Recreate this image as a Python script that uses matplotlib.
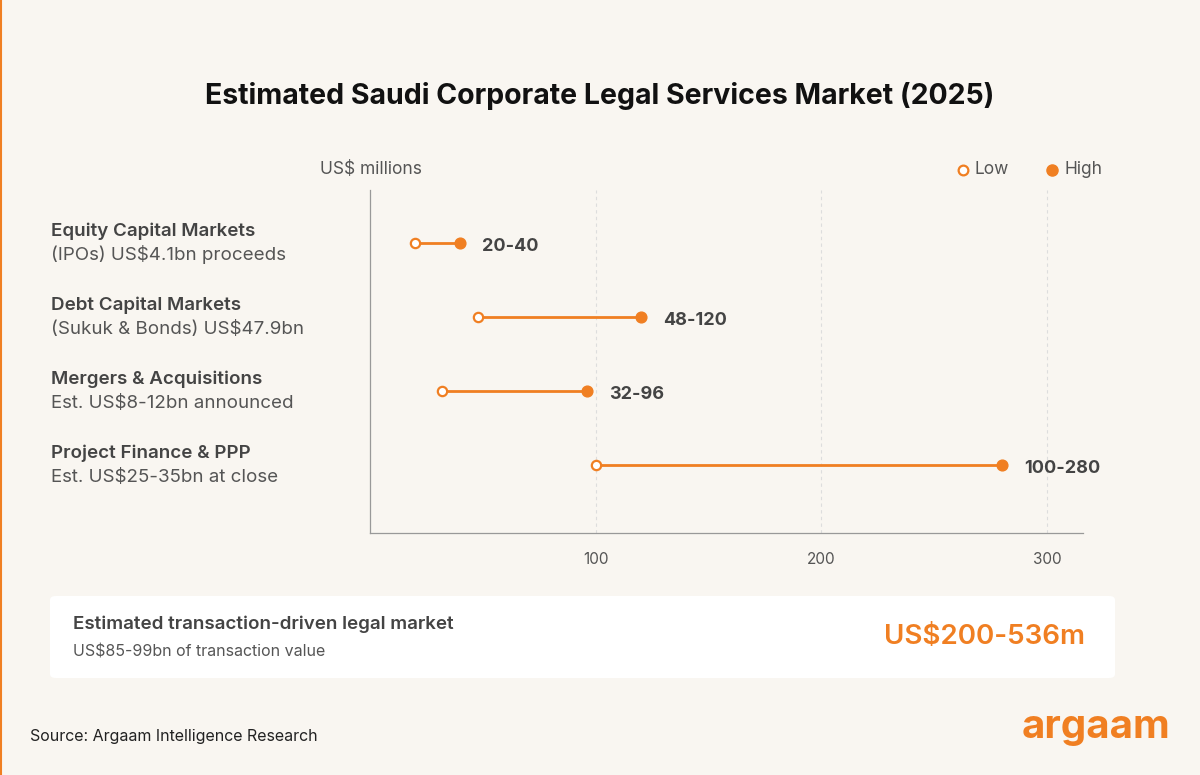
import matplotlib.pyplot as plt
from matplotlib.patches import FancyBboxPatch

plt.rcParams["font.family"] = ["Inter", "DejaVu Sans"]

categories = ["Equity Capital Markets", "Debt Capital Markets",
              "Mergers & Acquisitions", "Project Finance & PPP"]
subtitles = ["(IPOs) US$4.1bn proceeds", "(Sukuk & Bonds) US$47.9bn",
             "Est. US$8-12bn announced", "Est. US$25-35bn at close"]
low = [20, 48, 32, 100]
high = [40, 120, 96, 280]
ticks = [100, 200, 300]

ORANGE = "#f07f22"
BG = "#f9f6f1"
GREY = "#555555"

fig = plt.figure(figsize=(12, 7.75), dpi=100, facecolor=BG)
ax = fig.add_axes([370 / 1200, 1 - 533 / 775, 713 / 1200, (533 - 190) / 775])
ax.set_facecolor(BG)

rows = list(range(len(categories)))
for y, lo, hi in zip(rows, low, high):
    ax.plot([lo, hi], [y, y], color=ORANGE, lw=2, zorder=2)
    ax.scatter([lo], [y], s=45, facecolor="white", edgecolor=ORANGE, lw=1.6, zorder=3)
    ax.scatter([hi], [y], s=60, color=ORANGE, zorder=3)
    ax.annotate(f"{lo}-{hi}", (hi, y), xytext=(16, -1), textcoords="offset points",
                va="center_baseline", ha="left", fontsize=13, fontweight="bold",
                color="#444444")

ax.set_xlim(0, 316)
ax.set_ylim(3.919, -0.716)
ax.set_xticks(ticks)
ax.set_xticklabels([str(t) for t in ticks], fontsize=11, color=GREY)
ax.tick_params(axis="x", length=0, pad=14)
ax.set_yticks([])
for t in ticks:
    ax.axvline(t, color="#dddddd", lw=0.8, ls=(0, (3, 3)), zorder=0)
for s in ["top", "right"]:
    ax.spines[s].set_visible(False)
for s in ["left", "bottom"]:
    ax.spines[s].set_color("#999999")
    ax.spines[s].set_linewidth(0.9)

for y, cat, sub in zip(rows, categories, subtitles):
    py = 243 + 74 * y
    fig.text(51 / 1200, 1 - (py - 12) / 775, cat, fontsize=13.5, fontweight="semibold",
             color="#444444", va="center")
    fig.text(51 / 1200, 1 - (py + 12) / 775, sub, fontsize=13.5, color=GREY, va="center")

fig.text(0.5, 1 - 96 / 775, "Estimated Saudi Corporate Legal Services Market (2025)",
         ha="center", va="center", fontsize=20.5, fontweight="bold", color="#111111")
fig.text(320 / 1200, 1 - 170 / 775, "US$ millions", fontsize=12.5, color=GREY, va="center")

# legend
fig.add_artist(plt.Line2D([963 / 1200], [1 - 170 / 775], marker="o", ms=7, mfc="white",
                          mec=ORANGE, mew=1.6, ls="", transform=fig.transFigure))
fig.text(974 / 1200, 1 - 170 / 775, "Low", fontsize=12.5, color=GREY, va="center")
fig.add_artist(plt.Line2D([1052 / 1200], [1 - 170 / 775], marker="o", ms=8, color=ORANGE,
                          ls="", transform=fig.transFigure))
fig.text(1064 / 1200, 1 - 170 / 775, "High", fontsize=12.5, color=GREY, va="center")

# summary box
box = FancyBboxPatch((50 / 1200, 1 - 678 / 775), 1065 / 1200, 82 / 775,
                     boxstyle="round,pad=0,rounding_size=0.005", transform=fig.transFigure,
                     facecolor="white", edgecolor="none")
fig.add_artist(box)
fig.text(73 / 1200, 1 - 624 / 775, "Estimated transaction-driven legal market",
         fontsize=13.5, fontweight="semibold", color="#444444", va="center")
fig.text(73 / 1200, 1 - 652 / 775, "US$85-99bn of transaction value",
         fontsize=11.5, color=GREY, va="center")
fig.text(1085 / 1200, 1 - 637 / 775, "US$200-536m", fontsize=20, fontweight="semibold",
         color=ORANGE, ha="right", va="center")

fig.text(30 / 1200, 1 - 737 / 775, "Source: Argaam Intelligence Research",
         fontsize=11.5, color="#222222", va="center")
fig.text(1170 / 1200, 1 - 728 / 775, "argaam", fontsize=29, fontweight="bold",
         color=ORANGE, ha="right", va="center")

fig.add_artist(plt.Line2D([0.001, 0.001], [0, 1], color=ORANGE, lw=1.5,
                          transform=fig.transFigure))

fig.savefig("out.png", dpi=100, facecolor=BG)
